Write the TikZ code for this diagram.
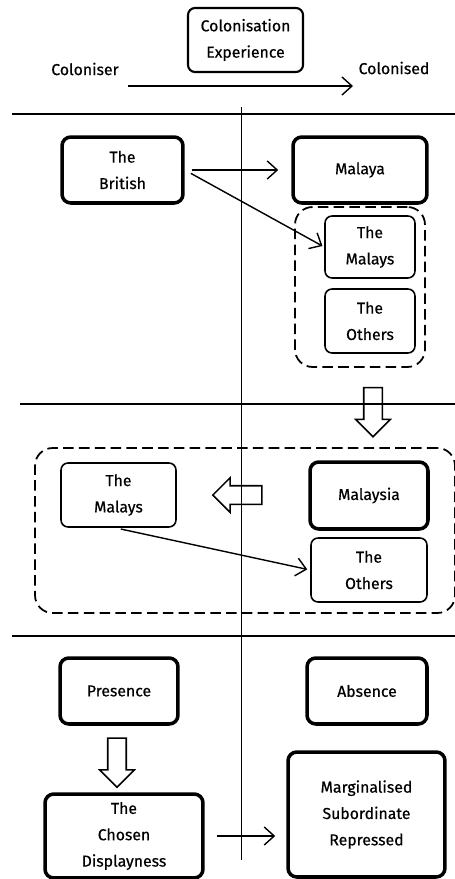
\documentclass[tikz,border=0pt]{standalone}
\usepackage{fontspec}
\setmainfont{Fira Sans}[FakeBold=0.5]
\usepackage{tikz}
\usetikzlibrary{arrows.meta, shapes.arrows}

\tikzset{
  thickbox/.style={draw, line width=2pt, rounded corners=5pt, align=center, inner sep=0pt},
  thinbox/.style={draw, line width=0.9pt, rounded corners=4pt, align=center, inner sep=0pt},
  groupbox/.style={draw, line width=1pt, dash pattern=on 6pt off 3pt, rounded corners=10pt, inner sep=0pt},
  sectionline/.style={line width=1.3pt},
  link/.style={line width=0.8pt, -{Straight Barb[length=0.2cm, width=0.36cm]}},
  hollow/.style={draw, line width=0.9pt, single arrow, inner sep=0.17cm, single arrow head extend=0.16cm, minimum height=0.98cm},
}

\begin{document}
\begin{tikzpicture}[x=0.02cm, y=-0.02cm, font=\fontsize{9}{15}\selectfont]
        \useasboundingbox (0,0) rectangle (455,879);

        % header
        \node[thinbox, line width=1.2pt, minimum width=2.3cm, minimum height=1.28cm] (exp) at (245.5,40) {Colonisation\\Experience};
        \node (coloniser) at (85,69) {Coloniser};
        \node (colonised) at (394,68) {Colonised};
        \coordinate (a1) at (128,86);
        \coordinate (a2) at (353,86);
        \draw[link] (a1) -- (a2);

        \coordinate (l1a) at (12,114);  \coordinate (l1b) at (455,114);
        \coordinate (l2a) at (20,404);  \coordinate (l2b) at (455,404);
        \coordinate (l3a) at (12,636);  \coordinate (l3b) at (455,636);
        \coordinate (va) at (241,107);  \coordinate (vb) at (241,860);
        \draw[sectionline] (l1a) -- (l1b);
        \draw[sectionline] (l2a) -- (l2b);
        \draw[sectionline] (l3a) -- (l3b);
        \draw[line width=0.4pt] (va) -- (vb);

        % Malaya
        \node[thickbox, minimum width=2.42cm, minimum height=1.32cm] (british) at (122.5,170) {The\\British};
        \node[thickbox, minimum width=2.68cm, minimum height=1.32cm] (malaya) at (360,170) {Malaya};
        \node[groupbox, minimum width=2.6cm, minimum height=3.2cm] (group1) at (360,287) {};
        \node[thinbox, minimum width=1.8cm, minimum height=1.24cm] (malays1) at (370,247) {The\\Malays};
        \node[thinbox, minimum width=1.8cm, minimum height=1.28cm] (others1) at (370,321) {The\\Others};
        \draw[link, shorten <=0.14cm, shorten >=0.26cm] (british.east) -- (malaya.west);
        \draw[link, shorten <=0.14cm, shorten >=0.04cm] (british.east) -- (malays1.west);
        \node[hollow, rotate=-90] (down1) at (373,407.5) {};

        % Malaysia
        \node[groupbox, minimum width=8.4cm, minimum height=3.3cm] (group2) at (245,530.5) {};
        \node[thinbox, minimum width=2.3cm, minimum height=1.28cm] (malays2) at (118.5,495) {The\\Malays};
        \node[thickbox, minimum width=2.36cm, minimum height=1.34cm] (malaysia) at (369,495.5) {Malaysia};
        \node[thinbox, minimum width=2.32cm, minimum height=1.28cm] (others2) at (369,570) {The\\Others};
        \node[hollow, rotate=180] (left1) at (242,495) {};
        \draw[link, shorten <=0.12cm, shorten >=0.06cm] ([xshift=-0.07cm]malays2.south) -- (others2.west);

        % presence / absence
        \node[thickbox, minimum width=2.36cm, minimum height=1.32cm] (presence) at (119,691) {Presence};
        \node[thickbox, minimum width=2.4cm, minimum height=1.32cm] (absence) at (367,691) {Absence};
        \node[hollow, rotate=-90] (down2) at (117,758) {};
        \node[thickbox, minimum width=3.16cm, minimum height=1.68cm] (chosen) at (124,836) {The\\Chosen\\Displayness};
        \node[thickbox, minimum width=3.14cm, minimum height=2.5cm] (marginal) at (366.5,814.5) {Marginalised\\Subordinate\\Repressed};
        \draw[link, shorten <=0.24cm, shorten >=0.22cm] (chosen.east) -- (marginal.west |- chosen.east);
    \end{tikzpicture}
\end{document}
